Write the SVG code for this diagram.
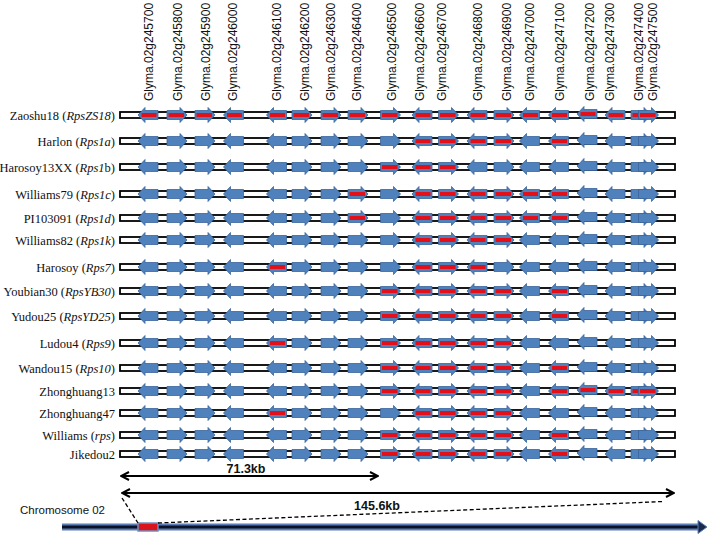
<svg xmlns="http://www.w3.org/2000/svg" xmlns:xlink="http://www.w3.org/1999/xlink" width="708" height="535" viewBox="0 0 708 535">
<style>
.gl{font-family:"Liberation Sans",Arial,sans-serif;font-size:12px;fill:#111}
.rl{font-family:"Liberation Serif","Times New Roman",serif;font-size:12.5px;fill:#111;text-anchor:end}
.it{font-style:italic}
.bar{fill:#fff;stroke:#000;stroke-width:1.8}
.ar{fill:#4F81BD;stroke:#3A6499;stroke-width:0.8}
.rd{fill:#E3101A}
.kb{font-family:"Liberation Sans",Arial,sans-serif;font-size:12.5px;font-weight:bold;fill:#111;text-anchor:middle}
.ms{stroke:#000;stroke-width:2;fill:none}
.ds{stroke:#000;stroke-width:1.3;fill:none;stroke-dasharray:4 2.5}
</style>
<defs>
<marker id="chev" viewBox="0 0 10 10" refX="9" refY="5" markerWidth="10" markerHeight="10" markerUnits="userSpaceOnUse" orient="auto-start-reverse">
<path d="M1,1 L9,5 L1,9" fill="none" stroke="#000" stroke-width="2"/>
</marker>
<path id="R" class="ar" d="M0,-4.5 H13 V-7.5 L20,0 L13,7.5 V4.5 H0 Z"/>
<path id="L" class="ar" d="M20,-4.5 H7 V-7.5 L0,0 L7,7.5 V4.5 H20 Z"/>
<g id="Rr"><use href="#R"/><rect class="rd" x="1.5" y="-2" width="15.5" height="4"/></g>
<g id="Lr"><use href="#L"/><rect class="rd" x="3.5" y="-2" width="15" height="4"/></g>
</defs>
<rect width="708" height="535" fill="#fff"/>

<g id="gene-labels">
<text class="gl" transform="translate(153,101) rotate(-90)">Glyma.02g245700</text>
<text class="gl" transform="translate(182,101) rotate(-90)">Glyma.02g245800</text>
<text class="gl" transform="translate(210,101) rotate(-90)">Glyma.02g245900</text>
<text class="gl" transform="translate(237,101) rotate(-90)">Glyma.02g246000</text>
<text class="gl" transform="translate(281,101) rotate(-90)">Glyma.02g246100</text>
<text class="gl" transform="translate(309,101) rotate(-90)">Glyma.02g246200</text>
<text class="gl" transform="translate(335,101) rotate(-90)">Glyma.02g246300</text>
<text class="gl" transform="translate(361,101) rotate(-90)">Glyma.02g246400</text>
<text class="gl" transform="translate(396,101) rotate(-90)">Glyma.02g246500</text>
<text class="gl" transform="translate(424,101) rotate(-90)">Glyma.02g246600</text>
<text class="gl" transform="translate(446,101) rotate(-90)">Glyma.02g246700</text>
<text class="gl" transform="translate(482,101) rotate(-90)">Glyma.02g246800</text>
<text class="gl" transform="translate(511,101) rotate(-90)">Glyma.02g246900</text>
<text class="gl" transform="translate(534,101) rotate(-90)">Glyma.02g247000</text>
<text class="gl" transform="translate(564,101) rotate(-90)">Glyma.02g247100</text>
<text class="gl" transform="translate(594,101) rotate(-90)">Glyma.02g247200</text>
<text class="gl" transform="translate(614,101) rotate(-90)">Glyma.02g247300</text>
<text class="gl" transform="translate(643,101) rotate(-90)">Glyma.02g247400</text>
<text class="gl" transform="translate(657,101) rotate(-90)">Glyma.02g247500</text>
</g>

<g id="row-zaoshu18" transform="translate(0,115)">
<text class="rl" x="115" y="4.5">Zaoshu18 (<tspan class="it">RpsZS18</tspan>)</text>
<rect class="bar" x="120" y="-3" width="555" height="6"/>
<use href="#Lr" x="138"/><use href="#Rr" x="167"/><use href="#Rr" x="195"/><use href="#Lr" x="223.5"/><use href="#Lr" x="266.5"/><use href="#Rr" x="292"/><use href="#Rr" x="321"/><use href="#Rr" x="348"/><use href="#Rr" x="380.5"/><use href="#Lr" x="412"/><use href="#Rr" x="438.5"/><use href="#Lr" x="467"/><use href="#Rr" x="494"/><use href="#Lr" x="519.5"/><use href="#Lr" x="548.5"/><use href="#Lr" x="577" y="-1"/><use href="#Lr" x="605"/><use href="#Rr" x="631"/><use href="#Rr" x="638.5"/>
</g>

<g id="row-harlon" transform="translate(0,141)">
<text class="rl" x="115" y="4.5">Harlon (<tspan class="it">Rps1a</tspan>)</text>
<rect class="bar" x="120" y="-3" width="555" height="6"/>
<use href="#L" x="138"/><use href="#R" x="167"/><use href="#R" x="195"/><use href="#L" x="223.5"/><use href="#L" x="266.5"/><use href="#R" x="292"/><use href="#R" x="321"/><use href="#R" x="348"/><use href="#R" x="380.5"/><use href="#Lr" x="412"/><use href="#Rr" x="438.5"/><use href="#Lr" x="467"/><use href="#Rr" x="494"/><use href="#L" x="519.5"/><use href="#Lr" x="548.5"/><use href="#L" x="577" y="-1"/><use href="#L" x="605"/><use href="#R" x="631"/><use href="#R" x="638.5"/>
</g>

<g id="row-harosoy13xx" transform="translate(0,167)">
<text class="rl" x="115" y="4.5">Harosoy13XX (<tspan class="it">Rps1</tspan>b)</text>
<rect class="bar" x="120" y="-3" width="555" height="6"/>
<use href="#L" x="138"/><use href="#R" x="167"/><use href="#R" x="195"/><use href="#L" x="223.5"/><use href="#L" x="266.5"/><use href="#R" x="292"/><use href="#R" x="321"/><use href="#R" x="348"/><use href="#Rr" x="380.5"/><use href="#Lr" x="412"/><use href="#Rr" x="438.5"/><use href="#L" x="467"/><use href="#R" x="494"/><use href="#L" x="519.5"/><use href="#L" x="548.5"/><use href="#L" x="577" y="-1"/><use href="#L" x="605"/><use href="#R" x="631"/><use href="#R" x="638.5"/>
</g>

<g id="row-williams79" transform="translate(0,194)">
<text class="rl" x="115" y="4.5">Williams79 (<tspan class="it">Rps1c</tspan>)</text>
<rect class="bar" x="120" y="-3" width="555" height="6"/>
<use href="#L" x="138"/><use href="#R" x="167"/><use href="#R" x="195"/><use href="#L" x="223.5"/><use href="#L" x="266.5"/><use href="#R" x="292"/><use href="#R" x="321"/><use href="#Rr" x="348"/><use href="#R" x="380.5"/><use href="#Lr" x="412"/><use href="#Rr" x="438.5"/><use href="#Lr" x="467"/><use href="#Rr" x="494"/><use href="#Lr" x="519.5"/><use href="#Lr" x="548.5"/><use href="#L" x="577" y="-1"/><use href="#L" x="605"/><use href="#R" x="631"/><use href="#R" x="638.5"/>
</g>

<g id="row-pi103091" transform="translate(0,218)">
<text class="rl" x="115" y="4.5">PI103091 (<tspan class="it">Rps1d</tspan>)</text>
<rect class="bar" x="120" y="-3" width="555" height="6"/>
<use href="#L" x="138"/><use href="#R" x="167"/><use href="#R" x="195"/><use href="#L" x="223.5"/><use href="#L" x="266.5"/><use href="#R" x="292"/><use href="#R" x="321"/><use href="#Rr" x="348"/><use href="#R" x="380.5"/><use href="#Lr" x="412"/><use href="#Rr" x="438.5"/><use href="#Lr" x="467"/><use href="#Rr" x="494"/><use href="#Lr" x="519.5"/><use href="#Lr" x="548.5"/><use href="#L" x="577" y="-1"/><use href="#L" x="605"/><use href="#R" x="631"/><use href="#R" x="638.5"/>
</g>

<g id="row-williams82" transform="translate(0,240)">
<text class="rl" x="115" y="4.5">Williams82 (<tspan class="it">Rps1k</tspan>)</text>
<rect class="bar" x="120" y="-3" width="555" height="6"/>
<use href="#L" x="138"/><use href="#R" x="167"/><use href="#R" x="195"/><use href="#L" x="223.5"/><use href="#L" x="266.5"/><use href="#R" x="292"/><use href="#R" x="321"/><use href="#R" x="348"/><use href="#R" x="380.5"/><use href="#Lr" x="412"/><use href="#Rr" x="438.5"/><use href="#Lr" x="467"/><use href="#Rr" x="494"/><use href="#L" x="519.5"/><use href="#L" x="548.5"/><use href="#L" x="577" y="-1"/><use href="#L" x="605"/><use href="#R" x="631"/><use href="#R" x="638.5"/>
</g>

<g id="row-harosoy" transform="translate(0,267)">
<text class="rl" x="115" y="4.5">Harosoy (<tspan class="it">Rps7</tspan>)</text>
<rect class="bar" x="120" y="-3" width="555" height="6"/>
<use href="#L" x="138"/><use href="#R" x="167"/><use href="#R" x="195"/><use href="#L" x="223.5"/><use href="#Lr" x="266.5"/><use href="#R" x="292"/><use href="#R" x="321"/><use href="#R" x="348"/><use href="#R" x="380.5"/><use href="#Lr" x="412"/><use href="#Rr" x="438.5"/><use href="#Lr" x="467"/><use href="#R" x="494"/><use href="#L" x="519.5"/><use href="#L" x="548.5"/><use href="#L" x="577" y="-1"/><use href="#L" x="605"/><use href="#R" x="631"/><use href="#R" x="638.5"/>
</g>

<g id="row-youbian30" transform="translate(0,291)">
<text class="rl" x="115" y="4.5">Youbian30 (<tspan class="it">RpsYB30</tspan>)</text>
<rect class="bar" x="120" y="-3" width="555" height="6"/>
<use href="#L" x="138"/><use href="#R" x="167"/><use href="#R" x="195"/><use href="#L" x="223.5"/><use href="#L" x="266.5"/><use href="#R" x="292"/><use href="#R" x="321"/><use href="#R" x="348"/><use href="#Rr" x="380.5"/><use href="#Lr" x="412"/><use href="#Rr" x="438.5"/><use href="#Lr" x="467"/><use href="#Rr" x="494"/><use href="#L" x="519.5"/><use href="#Lr" x="548.5"/><use href="#L" x="577" y="-1"/><use href="#L" x="605"/><use href="#R" x="631"/><use href="#R" x="638.5"/>
</g>

<g id="row-yudou25" transform="translate(0,316)">
<text class="rl" x="115" y="4.5">Yudou25 (<tspan class="it">RpsYD25</tspan>)</text>
<rect class="bar" x="120" y="-3" width="555" height="6"/>
<use href="#L" x="138"/><use href="#R" x="167"/><use href="#R" x="195"/><use href="#L" x="223.5"/><use href="#L" x="266.5"/><use href="#R" x="292"/><use href="#R" x="321"/><use href="#R" x="348"/><use href="#Rr" x="380.5"/><use href="#Lr" x="412"/><use href="#Rr" x="438.5"/><use href="#Lr" x="467"/><use href="#Rr" x="494"/><use href="#L" x="519.5"/><use href="#Lr" x="548.5"/><use href="#L" x="577" y="-1"/><use href="#L" x="605"/><use href="#R" x="631"/><use href="#R" x="638.5"/>
</g>

<g id="row-ludou4" transform="translate(0,343)">
<text class="rl" x="115" y="4.5">Ludou4 (<tspan class="it">Rps9</tspan>)</text>
<rect class="bar" x="120" y="-3" width="555" height="6"/>
<use href="#L" x="138"/><use href="#R" x="167"/><use href="#R" x="195"/><use href="#L" x="223.5"/><use href="#Lr" x="266.5"/><use href="#R" x="292"/><use href="#R" x="321"/><use href="#R" x="348"/><use href="#Rr" x="380.5"/><use href="#Lr" x="412"/><use href="#Rr" x="438.5"/><use href="#Lr" x="467"/><use href="#Rr" x="494"/><use href="#L" x="519.5"/><use href="#L" x="548.5"/><use href="#L" x="577" y="-1"/><use href="#L" x="605"/><use href="#R" x="631"/><use href="#R" x="638.5"/>
</g>

<g id="row-wandou15" transform="translate(0,368)">
<text class="rl" x="115" y="4.5">Wandou15 (<tspan class="it">Rps10</tspan>)</text>
<rect class="bar" x="120" y="-3" width="555" height="6"/>
<use href="#L" x="138"/><use href="#R" x="167"/><use href="#R" x="195"/><use href="#L" x="223.5"/><use href="#L" x="266.5"/><use href="#R" x="292"/><use href="#R" x="321"/><use href="#R" x="348"/><use href="#Rr" x="380.5"/><use href="#Lr" x="412"/><use href="#Rr" x="438.5"/><use href="#Lr" x="467"/><use href="#Rr" x="494"/><use href="#L" x="519.5"/><use href="#Lr" x="548.5"/><use href="#L" x="577" y="-1"/><use href="#L" x="605"/><use href="#R" x="631"/><use href="#R" x="638.5"/>
</g>

<g id="row-zhonghuang13" transform="translate(0,391)">
<text class="rl" x="115" y="4.5">Zhonghuang13</text>
<rect class="bar" x="120" y="-3" width="555" height="6"/>
<use href="#L" x="138"/><use href="#R" x="167"/><use href="#R" x="195"/><use href="#L" x="223.5"/><use href="#L" x="266.5"/><use href="#R" x="292"/><use href="#R" x="321"/><use href="#R" x="348"/><use href="#Rr" x="380.5"/><use href="#Lr" x="412"/><use href="#Rr" x="438.5"/><use href="#Lr" x="467"/><use href="#Rr" x="494"/><use href="#L" x="519.5"/><use href="#Lr" x="548.5"/><use href="#Lr" x="577" y="-1"/><use href="#Lr" x="605"/><use href="#Rr" x="631"/><use href="#Rr" x="638.5"/>
</g>

<g id="row-zhonghuang47" transform="translate(0,413)">
<text class="rl" x="115" y="4.5">Zhonghuang47</text>
<rect class="bar" x="120" y="-3" width="555" height="6"/>
<use href="#L" x="138"/><use href="#R" x="167"/><use href="#R" x="195"/><use href="#L" x="223.5"/><use href="#Lr" x="266.5"/><use href="#R" x="292"/><use href="#R" x="321"/><use href="#R" x="348"/><use href="#R" x="380.5"/><use href="#Lr" x="412"/><use href="#Rr" x="438.5"/><use href="#Lr" x="467"/><use href="#Rr" x="494"/><use href="#L" x="519.5"/><use href="#L" x="548.5"/><use href="#L" x="577" y="-1"/><use href="#L" x="605"/><use href="#R" x="631"/><use href="#R" x="638.5"/>
</g>

<g id="row-williams" transform="translate(0,435)">
<text class="rl" x="115" y="4.5">Williams (<tspan class="it">rps</tspan>)</text>
<rect class="bar" x="120" y="-3" width="555" height="6"/>
<use href="#L" x="138"/><use href="#R" x="167"/><use href="#R" x="195"/><use href="#L" x="223.5"/><use href="#L" x="266.5"/><use href="#R" x="292"/><use href="#R" x="321"/><use href="#R" x="348"/><use href="#Rr" x="380.5"/><use href="#Lr" x="412"/><use href="#Rr" x="438.5"/><use href="#Lr" x="467"/><use href="#Rr" x="494"/><use href="#L" x="519.5"/><use href="#Lr" x="548.5"/><use href="#L" x="577" y="-1"/><use href="#L" x="605"/><use href="#R" x="631"/><use href="#R" x="638.5"/>
</g>

<g id="row-jikedou2" transform="translate(0,454)">
<text class="rl" x="115" y="4.5">Jikedou2</text>
<rect class="bar" x="120" y="-3" width="555" height="6"/>
<use href="#L" x="138"/><use href="#R" x="167"/><use href="#R" x="195"/><use href="#L" x="223.5"/><use href="#L" x="266.5"/><use href="#R" x="292"/><use href="#R" x="321"/><use href="#R" x="348"/><use href="#Rr" x="380.5"/><use href="#Lr" x="412"/><use href="#Rr" x="438.5"/><use href="#Lr" x="467"/><use href="#Rr" x="494"/><use href="#L" x="519.5"/><use href="#Lr" x="548.5"/><use href="#L" x="577" y="-1"/><use href="#L" x="605"/><use href="#R" x="631"/><use href="#R" x="638.5"/>
</g>

<g id="chromosome">
<text x="20" y="514" font-family="'Liberation Sans',Arial,sans-serif" font-size="11.5" fill="#111">Chromosome 02</text>
<rect x="62" y="523.5" width="638" height="7" fill="#5a7db3"/>
<rect x="62" y="525.5" width="638" height="3" fill="#0b1228"/>
<path d="M698,520.5 L707,527 L698,533.5 Z" fill="#1a2a4f" stroke="#5a7db3" stroke-width="1"/>
<rect x="138" y="523" width="20" height="8" fill="#d9141b" stroke="#6f8fbf" stroke-width="1.5"/>
</g>

<g id="connectors">
<line class="ms" x1="121" y1="476" x2="378" y2="476" marker-start="url(#chev)" marker-end="url(#chev)"/>
<text class="kb" x="246" y="473">71.3kb</text>
<line class="ms" x1="122" y1="493" x2="674" y2="493" marker-start="url(#chev)" marker-end="url(#chev)"/>
<text class="kb" x="377" y="510">145.6kb</text>
<line class="ds" x1="122" y1="498" x2="138" y2="523"/>
<line class="ds" x1="158" y1="523" x2="663" y2="501.5"/>
</g>
</svg>
